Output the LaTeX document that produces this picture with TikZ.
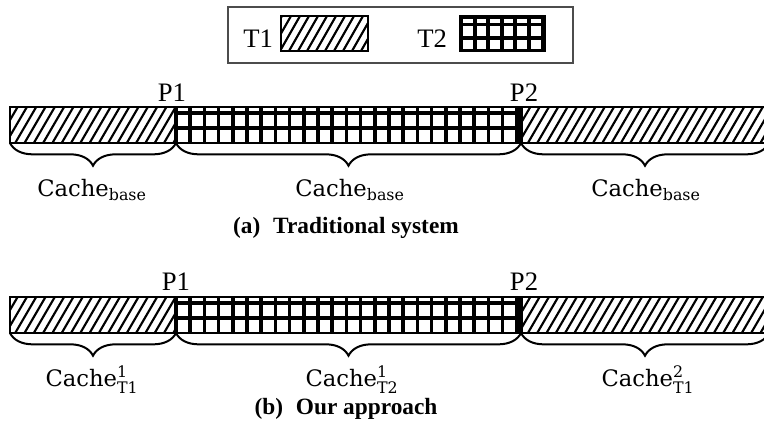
\documentclass[tikz,border=0pt]{standalone}
\usepackage{amsmath}
\usepackage{fontspec}
\setmainfont{Liberation Serif}
\newfontfamily\cachefont{DejaVu Serif}
\usetikzlibrary{decorations.pathreplacing}

\begin{document}
\begin{tikzpicture}[x=0.75pt,y=-0.75pt,
    outline/.style={line width=1.5pt},
    hatch/.style={line width=1.6pt},
    gridl/.style={line width=2.6pt},
    brc/.style={decorate,decoration={brace,mirror,amplitude=17pt},line width=1.5pt},
    every node/.style={inner sep=0pt},
    plab/.style={font=\fontsize{20}{20}\selectfont},
    clab/.style={font=\cachefont\fontsize{17}{18}\selectfont},
    caplab/.style={font=\bfseries\fontsize{17.5}{18}\selectfont}]
    \useasboundingbox (0,0) rectangle (764,421);
    \clip (0,0) rectangle (764,421);
    % Legend
    \draw[black!70, line width=0.8pt] (228,7) rectangle (573,63);
    \node[anchor=base west, font=\fontsize{20}{20}\selectfont] (t1) at (243,47) {T1};
    \node[anchor=base west, font=\fontsize{20}{20}\selectfont] (t2) at (417,47) {T2};
    \begin{scope}
        \clip (281,16) rectangle (368,51);
        \foreach \x in {262,271,...,370} \draw[hatch] (\x,51) -- ++(20,-35);
    \end{scope}
    \draw[outline] (281,16) rectangle (368,51);
    \fill (459,15) rectangle (546,52);
    \foreach \x in {0,1,...,5} \foreach \y in {0,1}
        \fill[white] (463+\x*13.6,26+\y*13.5) rectangle ++(9.5,9.5);
    \foreach \x in {0,1,...,5}
        \fill[white] (463+\x*13.6,18.5) rectangle ++(9.5,4);
    % Bars (a) and (b)
    \foreach \t in {107,297} {
        \begin{scope}
            \clip (10,\t) rectangle (176,\t+36);
            \foreach \x in {-22,-12.7,...,180} \draw[hatch] (\x,\t+36) -- ++(21,-36);
        \end{scope}
        \begin{scope}
            \clip (521,\t) rectangle (770,\t+36);
            \foreach \x in {500,509.3,...,775} \draw[hatch] (\x,\t+36) -- ++(21,-36);
        \end{scope}
        \foreach \x in {176,190.2,...,521} \draw[gridl] (\x,\t) -- (\x,\t+36);
        \draw[gridl] (521,\t) -- (521,\t+36);
        \draw[gridl] (176,\t+6) -- (521,\t+6);
        \draw[gridl] (176,\t+21) -- (521,\t+21);
        \draw[outline] (10,\t) rectangle (775,\t+36);
    }
    % Split points
    \coordinate (a0) at (10,143);
    \coordinate (a1) at (176,143);
    \coordinate (a2) at (521,143);
    \coordinate (a3) at (769,143);
    \coordinate (b0) at (10,333);
    \coordinate (b1) at (176,333);
    \coordinate (b2) at (521,333);
    \coordinate (b3) at (769,333);
    \node[plab, anchor=base] (p1a) at (172,101) {P1};
    \node[plab, anchor=base] (p2a) at (524,101) {P2};
    \node[plab, anchor=base] (p1b) at (176,290) {P1};
    \node[plab, anchor=base] (p2b) at (524,290) {P2};
    % Braces
    \draw[brc] (a0) -- (a1);
    \draw[brc] (a1) -- (a2);
    \draw[brc] (a2) -- (a3);
    \draw[brc] (b0) -- (b1);
    \draw[brc] (b1) -- (b2);
    \draw[brc] (b2) -- (b3);
    % Labels
    \node[clab, anchor=base] (ca1) at (92,196) {Cache\textsubscript{base}};
    \node[clab, anchor=base] (ca2) at (350,196) {Cache\textsubscript{base}};
    \node[clab, anchor=base] (ca3) at (646,196) {Cache\textsubscript{base}};
    \node[clab, anchor=base] (cb1) at (92,386) {Cache$^{\text{1}}_{\text{T1}}$};
    \node[clab, anchor=base] (cb2) at (352,386) {Cache$^{\text{1}}_{\text{T2}}$};
    \node[clab, anchor=base] (cb3) at (648,386) {Cache$^{\text{2}}_{\text{T1}}$};
    \node[caplab, anchor=base] (capa) at (346,233) {(a)\hspace{0.55em}Traditional system};
    \node[caplab, anchor=base] (capb) at (346,414) {(b)\hspace{0.55em}Our approach};
\end{tikzpicture}
\end{document}
